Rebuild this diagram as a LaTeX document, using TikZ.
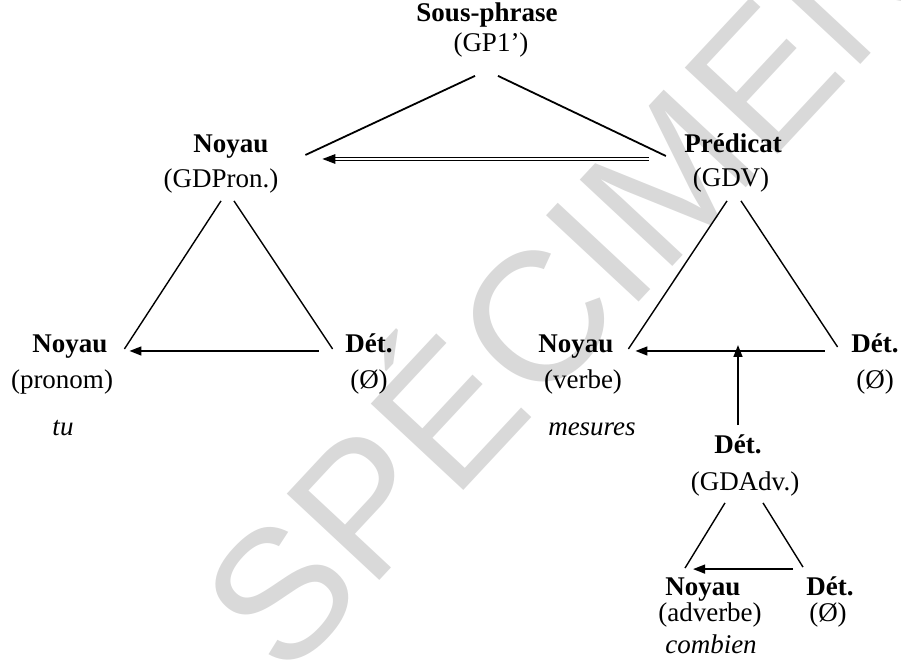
\documentclass[tikz,border=0pt]{standalone}
\usepackage{fontspec}
\setmainfont{Liberation Serif}
\newfontfamily\wmfont{Liberation Sans}
\usetikzlibrary{arrows.meta,positioning}
\newcommand\txtsz{\fontsize{13.5}{16}\selectfont}
\tikzset{
  lbl/.style={inner sep=0pt,text height=.75em,text depth=.25em,font=\txtsz},
  hd/.style={lbl,font=\txtsz\bfseries},
  ex/.style={lbl,font=\txtsz\itshape},
  br/.style={line width=.9pt},
  tri/.style={line width=.7pt},
  arr/.style={line width=1pt,-{Triangle[length=6pt,width=4.4pt]}},
  dbl/.style={double,line width=.6pt,double distance=.75pt,-{Triangle[length=6.5pt,width=4.8pt]}},
}
\begin{document}
\begin{tikzpicture}[x=.5pt,y=-.5pt]
\useasboundingbox (0,0) rectangle (901,672);
\begin{scope}\clip (0,0) rectangle (901,672);
\node[rotate=47,text=black!15,font=\wmfont\fontsize{92}{92}\selectfont] (wmk) at (556,276) {SPÉCIMEN};
\end{scope}
% top
\node[hd] (sp) at (487,17) {Sous-phrase};\node[lbl] (gp) at (491,47) {(GP1')};
\node[hd] (nyA) at (231,148) {Noyau};\node[lbl] (gdpron) at (221,183) {(GDPron.)};
\node[hd] (pred) at (733,148) {Prédicat};\node[lbl] (gdv) at (731,182) {(GDV)};
% bottom left
\node[hd] (nyB) at (70,348) {Noyau};\node[lbl] (pron) at (62,384) {(pronom)};\node[ex] (tu) at (63,431) {tu};
\node[hd] (detB) at (369,348) {Dét.};\node[lbl] (zB) at (369,384) {(Ø)};
% bottom right
\node[hd] (nyC) at (576,348) {Noyau};\node[lbl] (verbe) at (583,384) {(verbe)};\node[ex] (mes) at (592,431) {mesures};
\node[hd] (detC) at (875,348) {Dét.};\node[lbl] (zC) at (875,384) {(Ø)};
\node[hd] (detD) at (738,449) {Dét.};\node[lbl] (gdadv) at (745,486) {(GDAdv.)};
\node[hd] (nyE) at (703,591) {Noyau};\node[lbl] (adv) at (710,617) {(adverbe)};\node[ex] (comb) at (711,649) {combien};
\node[hd] (detF) at (830,591) {Dét.};\node[lbl] (zF) at (828,617) {(Ø)};
% links
\draw[br] ([shift={(-16,18.5)}]gp.south) -- ([shift={(36.5,7)}]nyA.east);
\draw[br] ([shift={(7,18.5)}]gp.south) -- ([shift={(-18,8)}]pred.west);
\draw[dbl] ([shift={(-35,11)}]pred.west) -- ([shift={(53.5,11)}]nyA.east);
\draw[tri] ([shift={(0,7.5)}]gdpron.south) -- ([shift={(16.5,1)}]nyB.east);
\draw[tri] ([shift={(13,7.5)}]gdpron.south) -- ([shift={(-12.4,1)}]detB.west);
\draw[arr] ([shift={(-26.4,3)}]detB.west) -- ([shift={(21.5,3)}]nyB.east);
\draw[tri] ([shift={(-4,8.5)}]gdv.south) -- ([shift={(14.5,1)}]nyC.east);
\draw[tri] ([shift={(10,8.5)}]gdv.south) -- ([shift={(-13.4,-1)}]detC.west);
\draw[arr] ([shift={(-26.4,3)}]detC.west) -- ([shift={(21.5,3)}]nyC.east);
\draw[arr,shorten <=6.75pt,shorten >=-1.5pt] (detD.north) -- (detD.north |- detC.west);
\draw[tri] ([shift={(-20,6.5)}]gdadv.south) -- ([shift={(-18,-12.5)}]nyE.north);
\draw[tri] ([shift={(18,6.5)}]gdadv.south) -- ([shift={(-27,-13.5)}]detF.north);
\draw[arr,line width=.9pt] ([shift={(-37,-11.5)}]detF.north) -- ([shift={(-10,-11.5)}]nyE.north);
\end{tikzpicture}
\end{document}
